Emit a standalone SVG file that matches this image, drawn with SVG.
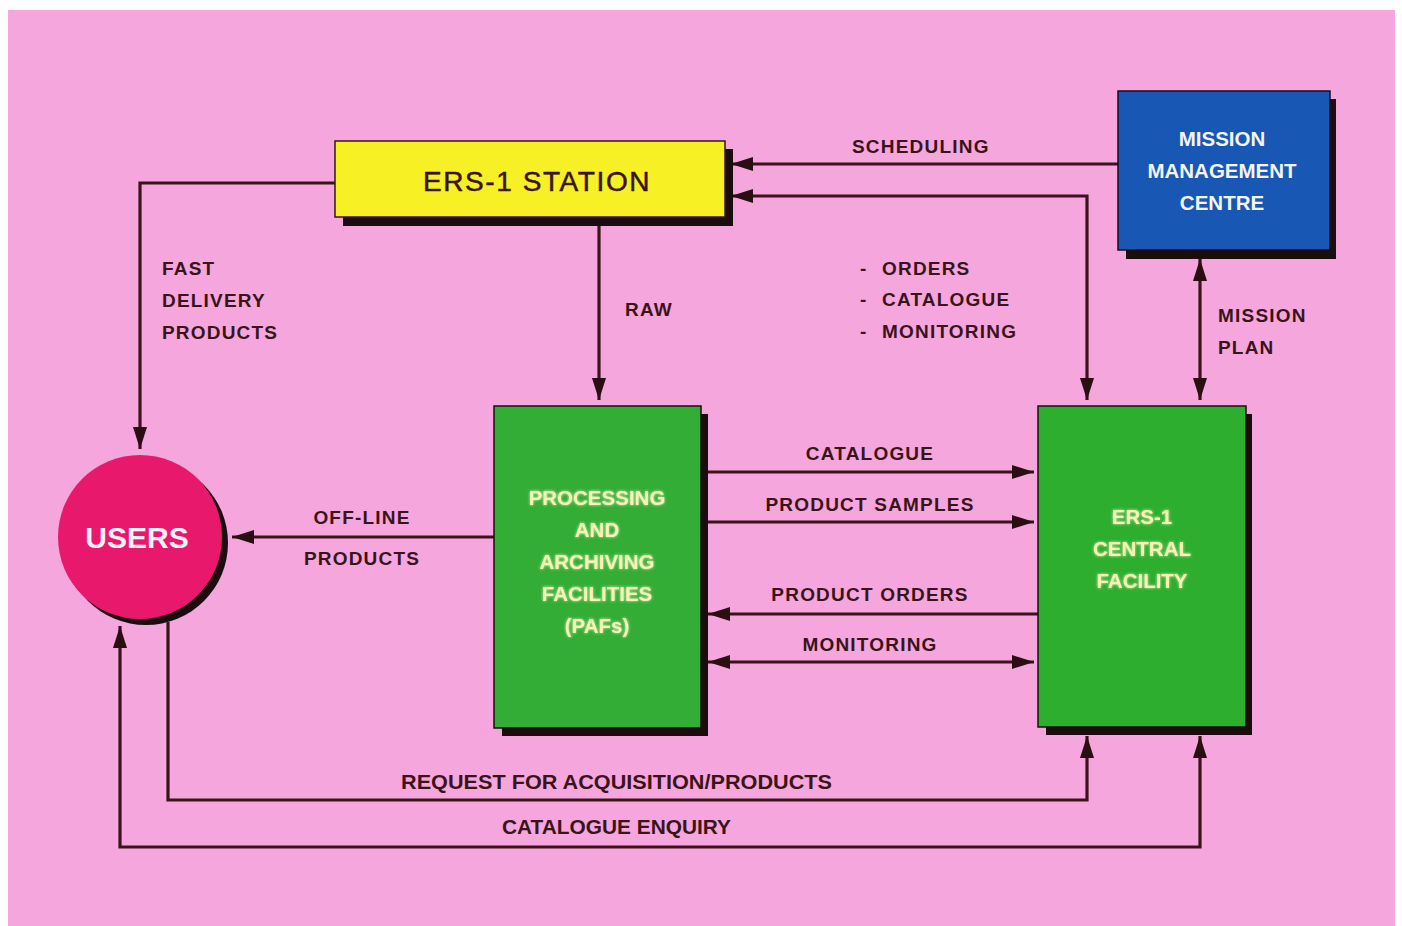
<svg xmlns="http://www.w3.org/2000/svg" width="1402" height="926" viewBox="0 0 1402 926">
  <defs>
    <style>
      .lbl { font-family: "Liberation Sans", Arial, sans-serif; font-size: 19px; font-weight: bold; fill: #3a1418; letter-spacing: 1.2px; }
      .lblc { font-family: "Liberation Sans", Arial, sans-serif; font-size: 20px; font-weight: bold; fill: #3a1418; }
      .node-t { font-family: "Liberation Sans", Arial, sans-serif; font-size: 20.5px; font-weight: bold; text-anchor: middle; }
      .wire { fill: none; stroke: #3a1418; stroke-width: 3.2; }
      .shadow { fill: #1c0c10; }
    </style>
    <marker id="ahs" viewBox="0 0 10 10" refX="10" refY="5" markerWidth="22" markerHeight="14" markerUnits="userSpaceOnUse" preserveAspectRatio="none" orient="auto-start-reverse">
      <path d="M0,0 L10,5 L0,10 z" fill="#2a0e12"/>
    </marker>
    <filter id="glow" x="-20%" y="-40%" width="140%" height="180%">
      <feGaussianBlur in="SourceAlpha" stdDeviation="1.4" result="b"/>
      <feFlood flood-color="#fffbe0" flood-opacity="0.8"/>
      <feComposite in2="b" operator="in" result="g"/>
      <feMerge><feMergeNode in="g"/><feMergeNode in="SourceGraphic"/></feMerge>
    </filter>
  </defs>

  <!-- sheet -->
  <rect x="0" y="0" width="1402" height="926" fill="#ffffff"/>
  <rect x="8" y="10" width="1387" height="916" fill="#f5a6dd"/>

  <!-- connectors -->
  <g id="connectors">
    <!-- station to users: fast delivery products -->
    <path class="wire" d="M335,183 H140 V449" marker-end="url(#ahs)"/>
    <!-- raw data to PAFs -->
    <path class="wire" d="M599,225 V400" marker-end="url(#ahs)"/>
    <!-- scheduling -->
    <path class="wire" d="M1118,164 H731" marker-end="url(#ahs)"/>
    <!-- orders / catalogue / monitoring -->
    <path class="wire" d="M731,196 H1087 V400" marker-start="url(#ahs)" marker-end="url(#ahs)"/>
    <!-- mission plan -->
    <path class="wire" d="M1200,259 V400" marker-start="url(#ahs)" marker-end="url(#ahs)"/>
    <!-- PAF <-> central facility -->
    <path class="wire" d="M708,472 H1034" marker-end="url(#ahs)"/>
    <path class="wire" d="M708,522 H1034" marker-end="url(#ahs)"/>
    <path class="wire" d="M1038,614 H708" marker-end="url(#ahs)"/>
    <path class="wire" d="M708,662 H1034" marker-start="url(#ahs)" marker-end="url(#ahs)"/>
    <!-- off-line products -->
    <path class="wire" d="M494,537 H232" marker-end="url(#ahs)"/>
    <!-- request for acquisition/products -->
    <path class="wire" d="M168,622 V800 H1087 V736" marker-end="url(#ahs)"/>
    <!-- catalogue enquiry -->
    <path class="wire" d="M1200,736 V847 H120 V626" marker-start="url(#ahs)" marker-end="url(#ahs)"/>
  </g>

  <!-- ERS-1 station -->
  <g id="station">
    <rect class="shadow" x="343" y="149" width="390" height="77"/>
    <rect x="335" y="141" width="390" height="76" fill="#f6f025" stroke="#3a1418" stroke-width="1.5"/>
    <text x="537" y="191" font-family="Liberation Sans, Arial, sans-serif" font-size="28" letter-spacing="1.6" fill="#3a1418" stroke="#3a1418" stroke-width="0.5" text-anchor="middle">ERS-1 STATION</text>
  </g>

  <!-- mission management centre -->
  <g id="mmc">
    <rect class="shadow" x="1126" y="99" width="210" height="160"/>
    <rect x="1118" y="91" width="212" height="159" fill="#1857b3" stroke="#1c0c10" stroke-width="1.5"/>
    <g class="node-t" fill="#f4f4f4">
      <text x="1222" y="146">MISSION</text>
      <text x="1222" y="178">MANAGEMENT</text>
      <text x="1222" y="210">CENTRE</text>
    </g>
  </g>

  <!-- processing and archiving facilities -->
  <g id="pafs">
    <rect class="shadow" x="502" y="414" width="206" height="322"/>
    <rect x="494" y="406" width="207" height="322" fill="#33ad36" stroke="#1c0c10" stroke-width="1.5"/>
    <g class="node-t" fill="#f6f5b0" filter="url(#glow)">
      <text x="597" y="505">PROCESSING</text>
      <text x="597" y="537">AND</text>
      <text x="597" y="569">ARCHIVING</text>
      <text x="597" y="601">FACILITIES</text>
      <text x="597" y="633">(PAFs)</text>
    </g>
  </g>

  <!-- ERS-1 central facility -->
  <g id="central">
    <rect class="shadow" x="1046" y="414" width="206" height="321"/>
    <rect x="1038" y="406" width="208" height="321" fill="#2eae2e" stroke="#1c0c10" stroke-width="1.5"/>
    <g class="node-t" fill="#f6f5b0" filter="url(#glow)">
      <text x="1142" y="524">ERS-1</text>
      <text x="1142" y="556">CENTRAL</text>
      <text x="1142" y="588">FACILITY</text>
    </g>
  </g>

  <!-- users -->
  <g id="users">
    <circle cx="146" cy="543" r="82" fill="#1c0c10"/>
    <circle cx="140" cy="537" r="82" fill="#e8196c"/>
    <text x="137" y="548" font-family="Liberation Sans, Arial, sans-serif" font-size="30" font-weight="bold" fill="#f8f0f4" text-anchor="middle">USERS</text>
  </g>

  <!-- connector labels -->
  <g id="labels">
    <text class="lbl" x="852" y="153">SCHEDULING</text>
    <text class="lbl" x="860" y="275">-</text>
    <text class="lbl" x="882" y="275">ORDERS</text>
    <text class="lbl" x="860" y="306">-</text>
    <text class="lbl" x="882" y="306">CATALOGUE</text>
    <text class="lbl" x="860" y="338">-</text>
    <text class="lbl" x="882" y="338">MONITORING</text>
    <text class="lbl" x="625" y="316">RAW</text>
    <text class="lbl" x="162" y="275">FAST</text>
    <text class="lbl" x="162" y="307">DELIVERY</text>
    <text class="lbl" x="162" y="339">PRODUCTS</text>
    <text class="lbl" x="1218" y="322">MISSION</text>
    <text class="lbl" x="1218" y="354">PLAN</text>
    <text class="lbl" x="870" y="460" text-anchor="middle">CATALOGUE</text>
    <text class="lbl" x="870" y="511" text-anchor="middle">PRODUCT  SAMPLES</text>
    <text class="lbl" x="870" y="601" text-anchor="middle">PRODUCT  ORDERS</text>
    <text class="lbl" x="870" y="651" text-anchor="middle">MONITORING</text>
    <text class="lbl" x="362" y="524" text-anchor="middle">OFF-LINE</text>
    <text class="lbl" x="362" y="565" text-anchor="middle">PRODUCTS</text>
    <text class="lblc" x="401" y="789" textLength="431" lengthAdjust="spacingAndGlyphs">REQUEST FOR ACQUISITION/PRODUCTS</text>
    <text class="lblc" x="502" y="834" textLength="229" lengthAdjust="spacingAndGlyphs">CATALOGUE ENQUIRY</text>
  </g>
</svg>
